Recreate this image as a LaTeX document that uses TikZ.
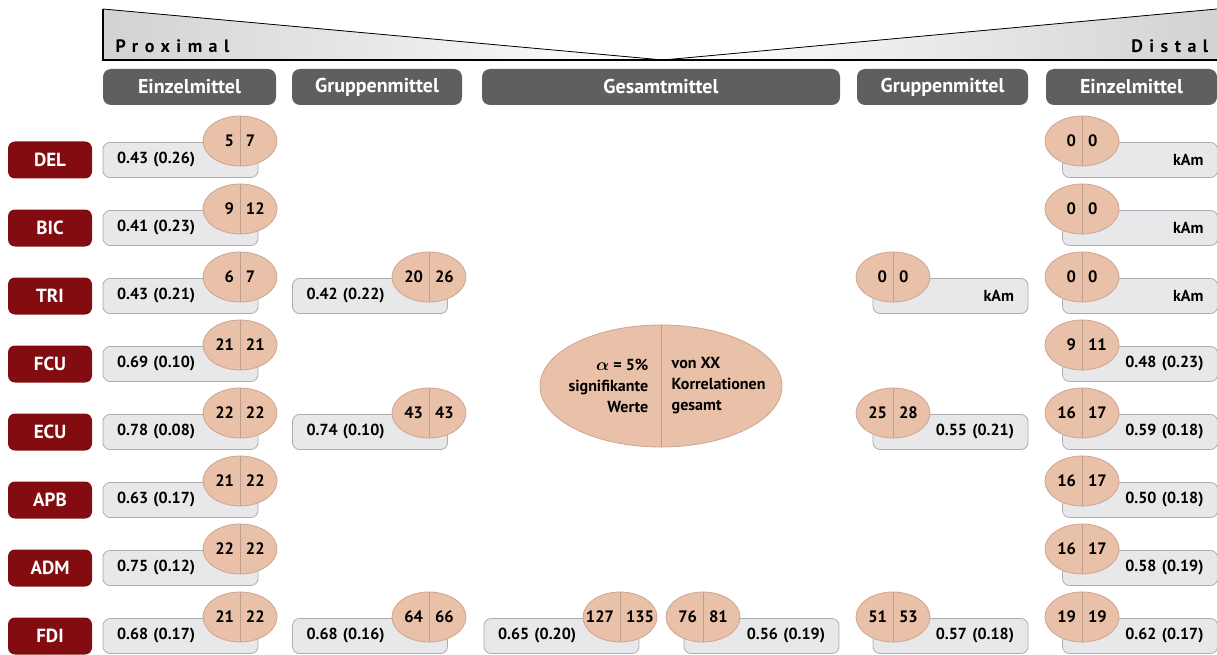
\documentclass[tikz,border=0pt]{standalone}
\usepackage{fontspec}
\setmainfont{PT Sans}
\newfontfamily\sperrfont[LetterSpace=36]{PT Sans}
\usepackage{tikz}
\usetikzlibrary{shapes.geometric,calc}
\definecolor{mydarkred}{RGB}{130,12,16}
\definecolor{mygray}{RGB}{95,95,95}
\definecolor{mybox}{RGB}{232,232,234}
\definecolor{myboxline}{RGB}{172,172,178}
\definecolor{mypeach}{RGB}{233,192,168}
\definecolor{mypeachline}{RGB}{205,165,145}
\newcommand{\zahlen}[2]{\makebox[0pt][r]{#1}\hspace{12pt}\makebox[0pt][l]{#2}}
\newcommand{\kam}{kAm\hspace*{22pt}}

\begin{document}
\begin{tikzpicture}[x=1pt,y=-1pt,line width=0.8pt]
	\tikzstyle{muskel}=[rounded corners=7pt,fill=mydarkred,text=white,minimum width=84pt,minimum height=37pt,font=\fontsize{19}{19}\selectfont\bfseries];
	\tikzstyle{kopf}=[rounded corners=8pt,fill=mygray,text=white,minimum height=36pt,font=\fontsize{20}{20}\selectfont\bfseries];
	\tikzstyle{wert}=[rounded corners=7pt,draw=myboxline,fill=mybox,text width=127pt,inner xsep=14pt,minimum height=35pt,font=\fontsize{16}{16}\selectfont\bfseries];
	\tikzstyle{wertl}=[wert,align=left];
	\tikzstyle{wertr}=[wert,align=right];
	\tikzstyle{oval}=[ellipse,draw=mypeachline,fill=mypeach,minimum width=74pt,minimum height=50pt,inner sep=0pt,font=\fontsize{16.5}{16.5}\selectfont\bfseries];
	\tikzstyle{teiler}=[mypeachline!80!gray,line width=0.6pt];
	\useasboundingbox (0,0) rectangle (1217,655);
	% Kopfzeile Proximal - Distal
	\fill[left color=gray!35,right color=white] (103,9) -- (663,60) -- (103,60) -- cycle;
	\fill[left color=white,right color=gray!35] (663,60) -- (1217,9) -- (1217,60) -- cycle;
	\draw (103,9) -- (663,60) -- (1217,9);
	\draw[line width=1.2pt] (103,9) -- (103,60) -- (1217,60);
	\node[anchor=west,font=\sperrfont\fontsize{18}{18}\selectfont\bfseries] (prox) at (112,46) {Proximal};
	\node[anchor=east,font=\sperrfont\fontsize{18}{18}\selectfont\bfseries] (dist) at (1212,46) {Distal};
	\node[kopf,minimum width=173pt] (k1) at (189.5,87) {Einzelmittel};
	\node[kopf,minimum width=170pt] (k2) at (377,87) {Gruppenmittel};
	\node[kopf,minimum width=358pt] (k3) at (661,87) {Gesamtmittel};
	\node[kopf,minimum width=171pt] (k4) at (942.5,87) {Gruppenmittel};
	\node[kopf,minimum width=171pt] (k5) at (1131.5,87) {Einzelmittel};
	% Einzelmittel proximal
	\foreach \m/\y/\w/\a/\b in {DEL/160/0.43 (0.26)/5/7, BIC/228/0.41 (0.23)/9/12,
		TRI/296/0.43 (0.21)/6/7, FCU/364/0.69 (0.10)/21/21, ECU/432/0.78 (0.08)/22/22,
		APB/500/0.63 (0.17)/21/22, ADM/568/0.75 (0.12)/22/22, FDI/636/0.68 (0.17)/21/22}{
		\node[muskel] (\m) at (50,\y) {\m};
		\node[wertl] (el-\m) at (180.5,\y) {\w};
		\node[oval] (ol-\m) at (240,\y-19) {\zahlen{\a}{\b}};
		\draw[teiler] (ol-\m.north) -- (ol-\m.south);
	}
	% Gruppenmittel proximal
	\foreach \m/\y/\w/\a/\b in {TRI/296/0.42 (0.22)/20/26, ECU/432/0.74 (0.10)/43/43, FDI/636/0.68 (0.16)/64/66}{
		\node[wertl] (gl-\m) at (370,\y) {\w};
		\node[oval] (ogl-\m) at (429,\y-19) {\zahlen{\a}{\b}};
		\draw[teiler] (ogl-\m.north) -- (ogl-\m.south);
	}
	% Gesamtmittel
	\node[ellipse,draw=mypeachline,fill=mypeach,minimum width=242pt,minimum height=122pt] (mitte) at (661,386) {};
	\draw[teiler] (mitte.north) -- (mitte.south);
	\node[anchor=east,align=right,font=\fontsize{16}{21}\selectfont\bfseries] (mitte-l) at (652,386) {{\boldmath$\alpha$} = 5\%\\signifikante\\Werte};
	\node[anchor=west,align=left,font=\fontsize{16}{21}\selectfont\bfseries] (mitte-r) at (668,386) {von XX\\Korrelationen\\gesamt};
	\node[wertl] (ges-l) at (561.5,636) {0.65 (0.20)};
	\node[oval] (oges-l) at (620,617) {\zahlen{127}{135}};
	\draw[teiler] (oges-l.north) -- (oges-l.south);
	\node[wertr] (ges-r) at (761.5,636) {0.56 (0.19)};
	\node[oval] (oges-r) at (703,617) {\zahlen{76}{81}};
	\draw[teiler] (oges-r.north) -- (oges-r.south);
	% Gruppenmittel distal
	\foreach \m/\y/\w/\a/\b in {TRI/296/\kam/0/0, ECU/432/0.55 (0.21)/25/28, FDI/636/0.57 (0.18)/51/53}{
		\node[wertr] (gr-\m) at (950.5,\y) {\w};
		\node[oval] (ogr-\m) at (893,\y-19) {\zahlen{\a}{\b}};
		\draw[teiler] (ogr-\m.north) -- (ogr-\m.south);
	}
	% Einzelmittel distal
	\foreach \m/\y/\w/\a/\b in {DEL/160/\kam/0/0, BIC/228/\kam/0/0, TRI/296/\kam/0/0,
		FCU/364/0.48 (0.23)/9/11, ECU/432/0.59 (0.18)/16/17, APB/500/0.50 (0.18)/16/17,
		ADM/568/0.58 (0.19)/16/17, FDI/636/0.62 (0.17)/19/19}{
		\node[wertr] (er-\m) at (1140,\y) {\w};
		\node[oval] (or-\m) at (1082,\y-19) {\zahlen{\a}{\b}};
		\draw[teiler] (or-\m.north) -- (or-\m.south);
	}
\end{tikzpicture}
\end{document}
